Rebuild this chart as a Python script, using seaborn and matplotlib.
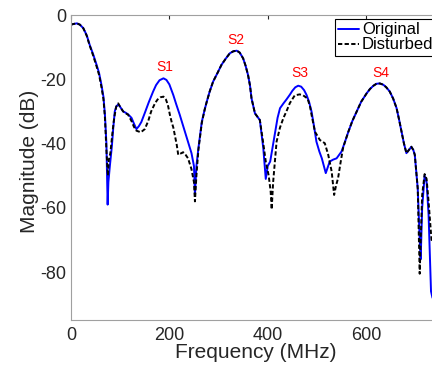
import numpy as np
import pandas as pd
import matplotlib
matplotlib.use("Agg")
import matplotlib.pyplot as plt
import seaborn as sns

# ---- data ----
freq_orig = [0, 5, 12, 18, 25, 32, 38, 45, 52, 57, 62, 66, 69, 72, 74.5, 76, 79, 83, 86, 89,
             92, 96, 100, 106, 111, 116, 123, 128, 133, 138, 143, 150, 158, 167, 173, 180,
             188, 194, 200, 208, 214, 221, 228, 235, 245, 250, 252, 255, 259, 266, 272, 276,
             282, 289, 298, 306, 315, 323, 330, 337, 343, 350, 355, 360, 364, 367, 374, 384,
             391, 396, 400, 405, 410, 415, 420, 425, 432, 438, 445, 450, 456, 462, 468, 474,
             479, 484, 489, 494, 499, 505, 510, 518, 526, 533, 540, 550, 557, 564, 572, 581,
             590, 601, 608, 615, 621, 628, 635, 641, 648, 655, 662, 667, 672, 677, 682, 687,
             692, 696, 699, 705, 709, 711, 714, 719, 723, 727, 732, 735]
mag_orig = [-3.0, -2.8, -2.6, -3.0, -4.1, -6.3, -9.3, -12.2, -15.5, -18.0, -21.8, -25.5, -31,
            -40, -59, -52, -47, -41, -35, -30, -28.5, -27.8, -28.6, -30, -30.4, -30.9, -32,
            -33.8, -35.5, -34.6, -33.3, -30.5, -27.2, -23.8, -21.8, -20.3, -19.7, -20.2,
            -21.6, -24.9, -27.8, -31, -34.5, -38, -43, -47, -56, -47, -41.5, -33.2, -29.3,
            -27, -23.8, -20.7, -18.0, -15.5, -13.5, -11.9, -11.3, -11.1, -11.7, -13.5,
            -15.8, -18.7, -22, -25.9, -30.6, -32.7, -41.5, -51, -47, -45.6, -41, -36.3,
            -32, -29, -27.5, -26.3, -24.8, -23.6, -22.5, -22, -22.3, -23.4, -24.9, -27,
            -30, -34.5, -39.4, -42.5, -44.6, -49.2, -45.6, -45, -44.6, -42.5, -39.5, -36.3,
            -33, -30, -27, -24.4, -23, -22, -21.4, -21.3, -21.7, -22.5, -23.8, -26, -29,
            -32.5, -36.3, -40, -43, -42, -41, -42, -43.5, -54, -70, -76, -60, -50, -52, -62,
            -86, -88]

freq_dist = [0, 5, 12, 18, 25, 32, 38, 45, 52, 57, 62, 66, 69, 72, 75, 77, 80, 84, 87, 89,
             92, 96, 100, 106, 111, 116, 123, 128, 133, 142, 150, 157, 163, 171, 176, 182,
             188, 193, 197, 201, 205, 208, 212, 215, 218, 224, 228, 233, 238, 245, 250, 252,
             255, 259, 266, 272, 276, 282, 289, 298, 306, 315, 323, 330, 337, 343, 350, 355,
             360, 364, 367, 374, 384, 391, 396, 402, 406, 408, 411, 418, 425, 432, 438, 445,
             455, 465, 472, 481, 486, 489, 496, 506, 516, 523, 530, 535, 539, 543, 548, 553,
             557, 564, 572, 581, 590, 601, 608, 615, 621, 628, 635, 641, 648, 655, 662, 667,
             672, 677, 682, 687, 692, 696, 699, 705, 709, 711, 714, 719, 723, 727, 730, 733,
             735]
mag_dist = [-3.0, -2.8, -2.6, -3.0, -4.1, -6.5, -9.5, -12.6, -16, -18.6, -22.5, -26.2, -32,
            -42, -50, -45, -43, -37, -33, -31, -28.5, -27.5, -28.6, -30, -30.6, -31, -33,
            -34.8, -36, -36.5, -35.5, -33, -30, -27.4, -26.3, -25.6, -25.4, -26.3, -28, -31,
            -33.5, -35, -38, -40.4, -43.5, -43, -42.7, -43.5, -44.6, -48, -52, -58, -50,
            -42, -33.5, -29.3, -27, -23.8, -20.7, -18.0, -15.5, -13.5, -11.9, -11.3, -11.1,
            -11.7, -13.5, -15.8, -18.7, -22, -25.9, -30.6, -32.7, -40, -45.6, -50, -55,
            -60.5, -52, -39.4, -35, -32, -30, -27.4, -25, -24.7, -25, -26, -28.5, -31,
            -36.3, -38.9, -39.9, -43.5, -48.7, -56, -53, -50.8, -46, -41.5, -39.5, -36.3,
            -33, -30, -27, -24.4, -23, -22, -21.4, -21.3, -21.7, -22.5, -23.8, -26, -29,
            -32.5, -36.3, -40, -43, -42, -41, -42, -43.5, -54, -80.5, -70, -56, -49.5, -51,
            -58, -64, -70, -70]

peak_labels = ["S1", "S2", "S3", "S4"]
peak_x = [191, 335, 465, 629]
peak_y = [-16.3, -7.8, -18.1, -18.1]

x_ticks = [0, 200, 400, 600]
y_ticks = [0, -20, -40, -60, -80]

# ---- style ----
sns.set_style("white")
plt.rcParams['font.family'] = ['Liberation Sans', 'DejaVu Sans']
plt.rcParams['axes.unicode_minus'] = False

fig = plt.figure(figsize=(4.32, 3.71), dpi=100)
ax = fig.add_axes([71 / 432, (371 - 320.3) / 371, 1 - 71 / 432, (320.3 - 15) / 371])

df_o = pd.DataFrame({"Frequency": freq_orig, "Magnitude": mag_orig})
df_d = pd.DataFrame({"Frequency": freq_dist, "Magnitude": mag_dist})

sns.lineplot(data=df_o, x="Frequency", y="Magnitude", ax=ax, color="#0000ff",
             lw=1.4, label="Original", estimator=None, sort=False)
sns.lineplot(data=df_d, x="Frequency", y="Magnitude", ax=ax, color="black",
             lw=1.4, label="Disturbed", estimator=None, sort=False,
             linestyle=(0, (2.2, 1.2)))

for t, xx, yy in zip(peak_labels, peak_x, peak_y):
    ax.text(xx, yy, t, color="red", fontsize=10, ha="center", va="center")

ax.set_xlim(0, 734)
ax.set_ylim(-95, 0)
ax.set_xticks(x_ticks)
ax.set_yticks(y_ticks)
ax.set_xlabel("Frequency (MHz)", fontsize=15, color="#262626")
ax.set_ylabel("Magnitude (dB)", fontsize=15, color="#262626")
ax.xaxis.set_label_coords(0.512, -0.073)
ax.yaxis.set_label_coords(-0.09, 0.52)

for s in ["left", "bottom", "top"]:
    ax.spines[s].set_visible(True)
    ax.spines[s].set_color("#a0a0a0")
    ax.spines[s].set_linewidth(0.8)
ax.spines["right"].set_visible(False)

ax.tick_params(axis="x", direction="in", length=3, width=0.8, color="#262626",
               labelsize=13, labelcolor="#262626", pad=5, top=True)
ax.tick_params(axis="y", direction="in", length=3, width=0.8, color="#262626",
               labelsize=13, labelcolor="#262626", pad=3.5)

leg = ax.legend(loc="upper left", bbox_to_anchor=(335 / 432, 1 - 19 / 371),
                bbox_transform=fig.transFigure, fontsize=12, frameon=True,
                fancybox=False, edgecolor="black", framealpha=1,
                handlelength=1.26, handletextpad=0.15, borderpad=0.2,
                labelspacing=0.0, borderaxespad=0)
leg.get_frame().set_linewidth(0.8)
for txt in leg.get_texts():
    txt.set_color("black")

fig.savefig("out.png", dpi=100)
